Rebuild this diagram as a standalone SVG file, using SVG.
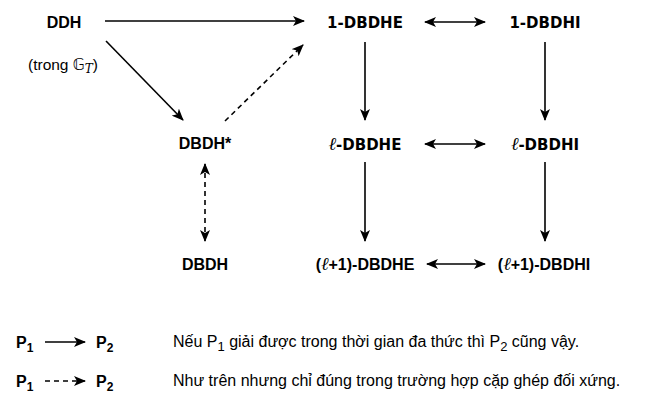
<svg xmlns="http://www.w3.org/2000/svg" width="648" height="404" viewBox="0 0 648 404">
<style>
.a{font-family:"Liberation Sans",Arial,sans-serif;font-weight:bold;font-size:16px;fill:#000}
.v{font-family:"DejaVu Sans",Verdana,sans-serif;font-weight:bold;font-size:15px;fill:#000}
.l{font-family:"DejaVu Serif","Liberation Serif",serif;font-style:italic;font-weight:normal}
.n{font-family:"Liberation Sans",Arial,sans-serif;font-size:16px;fill:#000}
.ln{stroke:#000;stroke-width:1.6;fill:none}
.d{stroke-dasharray:5,4}
</style>
<defs>
<marker id="h" viewBox="0 0 12 10" refX="11" refY="5" markerWidth="12" markerHeight="10" markerUnits="userSpaceOnUse" orient="auto-start-reverse">
<path d="M0,0 L12,5 L0,10 L3,5 z" fill="#000"/>
</marker>
</defs>
<rect width="648" height="404" fill="#fff"/>
<g id="connectors">
<line class="ln" x1="105" y1="21" x2="304" y2="21" marker-end="url(#h)"/>
<line class="ln" x1="106" y1="41" x2="183" y2="120" marker-end="url(#h)"/>
<line class="ln d" x1="225" y1="121" x2="303" y2="45" marker-end="url(#h)"/>
<line class="ln d" x1="205" y1="164" x2="205" y2="241" marker-start="url(#h)" marker-end="url(#h)"/>
<line class="ln" x1="425" y1="22" x2="485" y2="22" marker-start="url(#h)" marker-end="url(#h)"/>
<line class="ln" x1="425" y1="144" x2="485" y2="144" marker-start="url(#h)" marker-end="url(#h)"/>
<line class="ln" x1="427" y1="264" x2="485" y2="264" marker-start="url(#h)" marker-end="url(#h)"/>
<line class="ln" x1="365" y1="42" x2="365" y2="120" marker-end="url(#h)"/>
<line class="ln" x1="545" y1="42" x2="545" y2="120" marker-end="url(#h)"/>
<line class="ln" x1="365" y1="162" x2="365" y2="241" marker-end="url(#h)"/>
<line class="ln" x1="545" y1="162" x2="545" y2="241" marker-end="url(#h)"/>
</g>
<g id="DDH">
<text class="a" x="64" y="28" text-anchor="middle">DDH</text>
<text class="n" x="28" y="70" style="font-size:15.5px">(trong <tspan font-family="DejaVu Sans,sans-serif">𝔾</tspan><tspan class="l" font-size="12" dy="3">T</tspan><tspan dy="-3">)</tspan></text>
</g>
<g id="DBDHstar"><text class="a" x="205" y="149" text-anchor="middle">DBDH*</text></g>
<g id="DBDH"><text class="a" x="205" y="270" text-anchor="middle">DBDH</text></g>
<g id="oneDBDHE"><text class="v" x="365" y="28" text-anchor="middle">1-DBDHE</text></g>
<g id="oneDBDHI"><text class="v" x="545" y="28" text-anchor="middle">1-DBDHI</text></g>
<g id="lDBDHE"><text class="v" x="365" y="150" text-anchor="middle"><tspan class="l" font-size="18">ℓ</tspan>-DBDHE</text></g>
<g id="lDBDHI"><text class="v" x="545" y="150" text-anchor="middle"><tspan class="l" font-size="18">ℓ</tspan>-DBDHI</text></g>
<g id="l1DBDHE"><text class="a" x="365" y="270" text-anchor="middle">(<tspan class="l" font-size="18">ℓ</tspan>+1)-DBDHE</text></g>
<g id="l1DBDHI"><text class="a" x="544" y="270" text-anchor="middle">(<tspan class="l" font-size="18">ℓ</tspan>+1)-DBDHI</text></g>
<g id="legend">
<text class="a" x="16" y="348">P<tspan font-size="12" dy="4">1</tspan></text>
<line class="ln" x1="45" y1="342" x2="85" y2="342" marker-end="url(#h)"/>
<text class="a" x="96" y="348">P<tspan font-size="12" dy="4">2</tspan></text>
<text class="n" x="173" y="347">Nếu P<tspan font-size="13" dy="4">1</tspan><tspan dy="-4"> giải được trong thời gian đa thức thì P</tspan><tspan font-size="13" dy="4">2</tspan><tspan dy="-4"> cũng vậy.</tspan></text>
<text class="a" x="16" y="387">P<tspan font-size="12" dy="4">1</tspan></text>
<line class="ln d" x1="45" y1="381" x2="85" y2="381" marker-end="url(#h)"/>
<text class="a" x="96" y="387">P<tspan font-size="12" dy="4">2</tspan></text>
<text class="n" x="173" y="386">Như trên nhưng chỉ đúng trong trường hợp cặp ghép đối xứng.</text>
</g>
</svg>
